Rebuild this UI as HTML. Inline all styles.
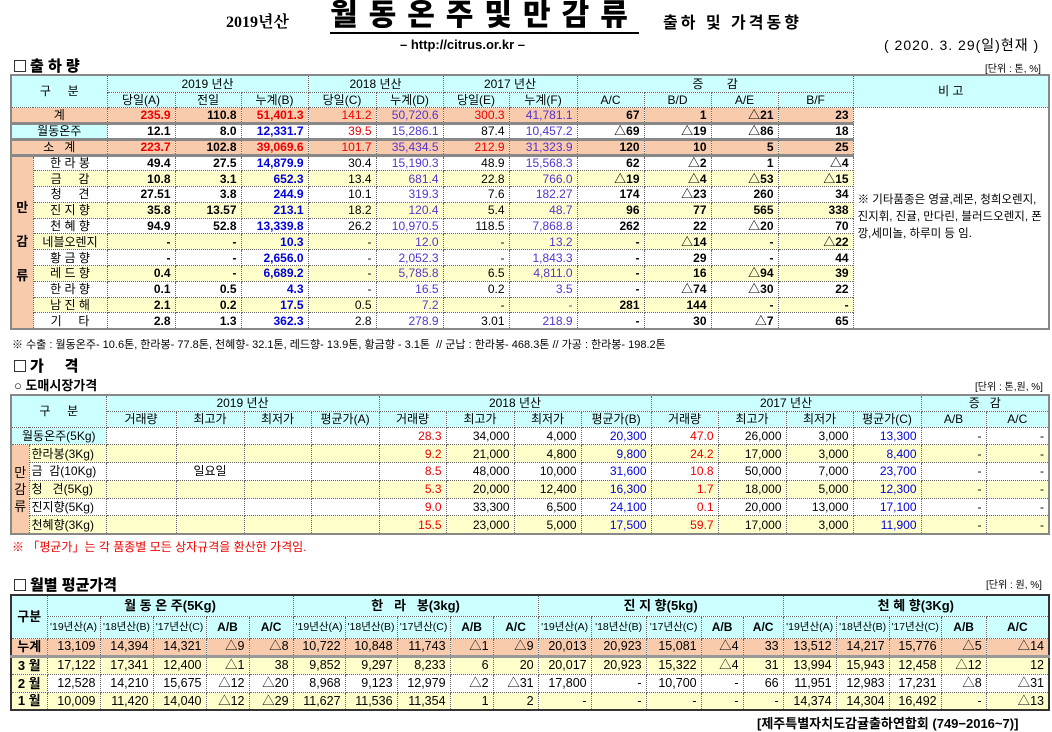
<!DOCTYPE html>
<html><head><meta charset="utf-8">
<style>
body{margin:0;width:1052px;height:730px;background:#fff;font-family:"Liberation Sans","Noto Sans CJK KR",sans-serif;font-size:12px;color:#000;position:relative;overflow:hidden}
.abs{position:absolute;white-space:nowrap}
table{border-collapse:collapse;table-layout:fixed;position:absolute}
td{border:1px dotted #666;padding:0 4px;white-space:nowrap;overflow:hidden;line-height:1}
.c{text-align:center}.r{text-align:right}
.hd{background:#ccffff}
.tot{background:#f8cbad}
.yl{background:#ffffcc}
.pe{background:#f8cbad}
.red{color:#e00}.blu{color:#0000dd}.pur{color:#5533cc}.b{font-weight:bold}
.t1{left:10px;top:74px;width:1040px;border:2px solid #888}
.t2{left:10px;top:394px;width:1040px;border:2px solid #888}
.t3{left:10px;top:594px;width:1040px;border:2px solid #333}
.sec{font-weight:900;font-size:15px}
.box{display:inline-block;width:10px;height:10px;border:1px solid #333;margin-right:4px;vertical-align:-1px}
</style></head><body>
<div class="abs" style="left:226px;top:9px;font-family:'Liberation Serif','Noto Serif CJK SC',serif;font-weight:bold;font-size:16px">2019년산</div>
<div class="abs" style="left:330px;top:0px;font-weight:900;font-size:30px;letter-spacing:11px;border-bottom:2px solid #000;line-height:32px">월동온주및만감류</div>
<div class="abs" style="left:663px;top:9px;font-weight:bold;font-size:16px;letter-spacing:3px">출하 및 가격동향</div>
<div class="abs" style="left:400px;top:37px;font-weight:bold;font-size:13px">– http://citrus.or.kr –</div>
<div class="abs" style="left:884px;top:35px;font-size:14px;letter-spacing:1px">( 2020. 3. 29(일)현재 )</div>
<div class="abs sec" style="left:14px;top:55px"><span class="box"></span>출 하 량</div>
<div class="abs" style="left:985px;top:60px;font-size:10px">[단위 : 톤, %]</div>

<table class="t1">
<colgroup><col style="width:22px"><col style="width:74px"><col style="width:68px"><col style="width:66px"><col style="width:67px"><col style="width:68px"><col style="width:67px"><col style="width:66px"><col style="width:68px"><col style="width:67px"><col style="width:67px"><col style="width:67px"><col style="width:75px"><col></colgroup>
<tbody id="t1b">
<tr style="height:17px" class="hd"><td colspan="2" rowspan="2" class="c">구 &nbsp; &nbsp; 분</td><td colspan="3" class="c">2019 년산</td><td colspan="2" class="c">2018 년산</td><td colspan="2" class="c">2017 년산</td><td colspan="4" class="c">증 &nbsp; &nbsp; &nbsp; 감</td><td rowspan="2" class="c">비 고</td></tr>
<tr style="height:15px" class="hd"><td class="c">당일(A)</td><td class="c">전일</td><td class="c">누계(B)</td><td class="c">당일(C)</td><td class="c">누계(D)</td><td class="c">당일(E)</td><td class="c">누계(F)</td><td class="c">A/C</td><td class="c">B/D</td><td class="c">A/E</td><td class="c">B/F</td></tr>
</tbody></table>

<div class="abs" style="left:12px;top:336px;font-size:11px">※ 수출 : 월동온주- 10.6톤, 한라봉- 77.8톤, 천혜향- 32.1톤, 레드향- 13.9톤, 황금향 - 3.1톤 &nbsp;// 군납 : 한라봉- 468.3톤 // 가공 : 한라봉- 198.2톤</div>
<div class="abs sec" style="left:14px;top:355px"><span class="box"></span>가 &nbsp; &nbsp; 격</div>
<div class="abs" style="left:14px;top:375px;font-weight:bold;font-size:13px">○ 도매시장가격</div>
<div class="abs" style="left:975px;top:378px;font-size:10px">[단위 : 톤,원, %]</div>

<table class="t2">
<colgroup><col style="width:18px"><col style="width:77px"><col style="width:70px"><col style="width:68px"><col style="width:67px"><col style="width:68px"><col style="width:67px"><col style="width:68px"><col style="width:67px"><col style="width:70px"><col style="width:67px"><col style="width:68px"><col style="width:67px"><col style="width:68px"><col style="width:65px"><col></colgroup>
<tbody id="t2b">
<tr style="height:16px" class="hd"><td colspan="2" rowspan="2" class="c">구 &nbsp; &nbsp; 분</td><td colspan="4" class="c">2019 년산</td><td colspan="4" class="c">2018 년산</td><td colspan="4" class="c">2017 년산</td><td colspan="2" class="c">증 &nbsp; 감</td></tr>
<tr style="height:16px" class="hd"><td class="c">거래량</td><td class="c">최고가</td><td class="c">최저가</td><td class="c">평균가(A)</td><td class="c">거래량</td><td class="c">최고가</td><td class="c">최저가</td><td class="c">평균가(B)</td><td class="c">거래량</td><td class="c">최고가</td><td class="c">최저가</td><td class="c">평균가(C)</td><td class="c">A/B</td><td class="c">A/C</td></tr>
</tbody></table>
<div class="abs red" style="left:12px;top:538px;font-size:12px">※ 「평균가」는 각 품종별 모든 상자규격을 환산한 가격임.</div>

<div class="abs sec" style="left:14px;top:574px"><span class="box"></span>월별 평균가격</div>
<div class="abs" style="left:986px;top:576px;font-size:10px">[단위 : 원, %]</div>

<table class="t3">
<colgroup><col style="width:36px"><col style="width:53px"><col style="width:53px"><col style="width:53px"><col style="width:43px"><col style="width:44px"><col style="width:52px"><col style="width:52px"><col style="width:53px"><col style="width:43px"><col style="width:45px"><col style="width:53px"><col style="width:55px"><col style="width:55px"><col style="width:42px"><col style="width:40px"><col style="width:53px"><col style="width:53px"><col style="width:52px"><col style="width:45px"><col></colgroup>
<tbody id="t3b">
<tr style="height:21px" class="hd"><td rowspan="2" class="c b" style="font-size:13px">구분</td><td colspan="5" class="c b" style="font-size:13px">월 동 온 주(5Kg)</td><td colspan="5" class="c b" style="font-size:13px">한 &nbsp; 라 &nbsp; 봉(3kg)</td><td colspan="5" class="c b" style="font-size:13px">진 지 향(5kg)</td><td colspan="5" class="c b" style="font-size:13px">천 혜 향(3Kg)</td></tr>
<tr style="height:22px" class="hd" id="t3h2"></tr>
</tbody></table>
<div class="abs" style="left:757px;top:713px;font-weight:bold;font-size:13px">[제주특별자치도감귤출하연합회 (749−2016~7)]</div>

<script>
const t1Labels=["계","월동온주","소 &nbsp; 계","한 라 봉","금 &nbsp; &nbsp; 감","청 &nbsp; &nbsp; 견","진 지 향","천 혜 향","네블오렌지","황 금 향","레 드 향","한 라 향","남 진 해","기 &nbsp; &nbsp; 타"];
const t1Kind=["tot","w","tot","w","yl","w","yl","w","yl","w","yl","w","yl","w"];
const t1Values=[
["235.9","110.8","51,401.3","141.2","50,720.6","300.3","41,781.1","67","1","△21","23"],
["12.1","8.0","12,331.7","39.5","15,286.1","87.4","10,457.2","△69","△19","△86","18"],
["223.7","102.8","39,069.6","101.7","35,434.5","212.9","31,323.9","120","10","5","25"],
["49.4","27.5","14,879.9","30.4","15,190.3","48.9","15,568.3","62","△2","1","△4"],
["10.8","3.1","652.3","13.4","681.4","22.8","766.0","△19","△4","△53","△15"],
["27.51","3.8","244.9","10.1","319.3","7.6","182.27","174","△23","260","34"],
["35.8","13.57","213.1","18.2","120.4","5.4","48.7","96","77","565","338"],
["94.9","52.8","13,339.8","26.2","10,970.5","118.5","7,868.8","262","22","△20","70"],
["-","-","10.3","-","12.0","-","13.2","-","△14","-","△22"],
["-","-","2,656.0","-","2,052.3","-","1,843.3","-","29","-","44"],
["0.4","-","6,689.2","-","5,785.8","6.5","4,811.0","-","16","△94","39"],
["0.1","0.5","4.3","-","16.5","0.2","3.5","-","△74","△30","22"],
["2.1","0.2","17.5","0.5","7.2","-","-","281","144","-","-"],
["2.8","1.3","362.3","2.8","278.9","3.01","218.9","-","30","△7","65"]];
const t1b=document.getElementById('t1b');
t1Values.forEach((vals,i)=>{
  const tr=document.createElement('tr');
  
  
  tr.style.height=(i<3?'16px':'15.8px');
  const k=t1Kind[i];const tot=k==='tot';
  let h='';
  if(i<3){h+=`<td colspan="2" class="c ${tot?'tot':'hd'}">${t1Labels[i]}</td>`;}
  else{
    if(i===3)h+=`<td rowspan="11" class="c pe b" style="line-height:34px;font-size:13px">만<br>감<br>류</td>`;
    h+=`<td class="c ${k==='yl'?'yl':''}">${t1Labels[i]}</td>`;
  }
  vals.forEach((v,j)=>{
    let cls='r '+(tot?'tot':(k==='yl'?'yl':''));
    if(j===0)cls+=tot?' red b':' b';
    if(j===1)cls+=' b';
    if(j===2)cls+=tot?' red b':' blu b';
    if(j===3)cls+=(tot||i===1)?' red':'';
    if(j===4)cls+=' pur';
    if(j===5)cls+=tot?' red':'';
    if(j===6)cls+=' pur';
    if(j>=7)cls+=' b';
    h+=`<td class="${cls}">${v}</td>`;
  });
  if(i===0)h+=`<td rowspan="14" style="white-space:normal;font-size:11.5px;line-height:17px;vertical-align:middle;padding:0 4px">※ 기타품종은 영귤,레몬, 청희오렌지, 진지휘, 진귤, 만다린, 블러드오렌지, 폰깡,세미놀, 하루미 등 임.</td>`;
  tr.innerHTML=h;
  if(i===0||i===1||i===2)tr.style.borderBottom='3px solid #888';
  t1b.appendChild(tr);
});

const t2Labels=["월동온주(5Kg)","한라봉(3Kg)","금 &nbsp;감(10Kg)","청 &nbsp; 견(5Kg)","진지향(5Kg)","천혜향(3Kg)"];
const t2Yellow=[false,true,false,true,false,true];
const t2y2019=[["","","",""],["","","",""],["","일요일","",""],["","","",""],["","","",""],["","","",""]];
const t2y2018=[["28.3","34,000","4,000","20,300"],["9.2","21,000","4,800","9,800"],["8.5","48,000","10,000","31,600"],["5.3","20,000","12,400","16,300"],["9.0","33,300","6,500","24,100"],["15.5","23,000","5,000","17,500"]];
const t2y2017=[["47.0","26,000","3,000","13,300"],["24.2","17,000","3,000","8,400"],["10.8","50,000","7,000","23,700"],["1.7","18,000","5,000","12,300"],["0.1","20,000","13,000","17,100"],["59.7","17,000","3,000","11,900"]];
const t2b=document.getElementById('t2b');
t2Labels.forEach((lab,i)=>{
  const tr=document.createElement('tr');
  
  
  tr.style.height='17.8px';
  const y=t2Yellow[i]?'yl':'';
  let h='';
  if(i===0)h+=`<td colspan="2" class="c hd">${lab}</td>`;
  else{ if(i===1)h+=`<td rowspan="5" class="c pe" style="padding:0;line-height:17px;font-size:13px">만<br>감<br>류</td>`; h+=`<td class="${y}" style="padding-left:2px">${lab}</td>`;}
  t2y2019[i].forEach(v=>h+=`<td class="c ${y}">${v}</td>`);
  [t2y2018[i],t2y2017[i]].forEach(arr=>arr.forEach((v,j)=>{h+=`<td class="r ${y} ${j===0?'red':''} ${j===3?'blu':''}">${v}</td>`;}));
  h+=`<td class="r ${y}">-</td><td class="r ${y}">-</td>`;
  tr.innerHTML=h;
  t2b.appendChild(tr);
});

const t3Months=["누계","3 월","2 월","1 월"];
const t3Kind=["tot","yl","w","yl"];
const t3Satsuma=[["13,109","14,394","14,321","△9","△8"],["17,122","17,341","12,400","△1","38"],["12,528","14,210","15,675","△12","△20"],["10,009","11,420","14,040","△12","△29"]];
const t3Hallabong=[["10,722","10,848","11,743","△1","△9"],["9,852","9,297","8,233","6","20"],["8,968","9,123","12,979","△2","△31"],["11,627","11,536","11,354","1","2"]];
const t3Jinji=[["20,013","20,923","15,081","△4","33"],["20,017","20,923","15,322","△4","31"],["17,800","-","10,700","-","66"],["-","-","-","-","-"]];
const t3Cheonhye=[["13,512","14,217","15,776","△5","△14"],["13,994","15,943","12,458","△12","12"],["11,951","12,983","17,231","△8","△31"],["14,374","14,304","16,492","-","△13"]];
const h2=document.getElementById('t3h2');
let hh='';
for(let g=0;g<4;g++){hh+=`<td class="c" style="padding:0;font-size:10.5px">'19년산(A)</td><td class="c" style="padding:0;font-size:10.5px">'18년산(B)</td><td class="c" style="padding:0;font-size:10.5px">'17년산(C)</td><td class="c b">A/B</td><td class="c b">A/C</td>`;}
h2.innerHTML=hh;
const t3b=document.getElementById('t3b');
t3Months.forEach((m,i)=>{
  const tr=document.createElement('tr');
  
  
  tr.style.height='18px';
  const k=t3Kind[i];const bg=k==='tot'?'tot':(k==='yl'?'yl':'');
  let h=`<td class="c b ${k==='tot'?'tot':'yl'}" style="padding:0;font-size:13px">${m}</td>`;
  [t3Satsuma[i],t3Hallabong[i],t3Jinji[i],t3Cheonhye[i]].forEach(arr=>arr.forEach(v=>{h+=`<td class="r ${bg}" style="font-size:12.5px">${v}</td>`;}));
  tr.innerHTML=h;
  if(i===0)tr.style.borderBottom='3px solid #999';
  t3b.appendChild(tr);
});
</script>
</body></html>
